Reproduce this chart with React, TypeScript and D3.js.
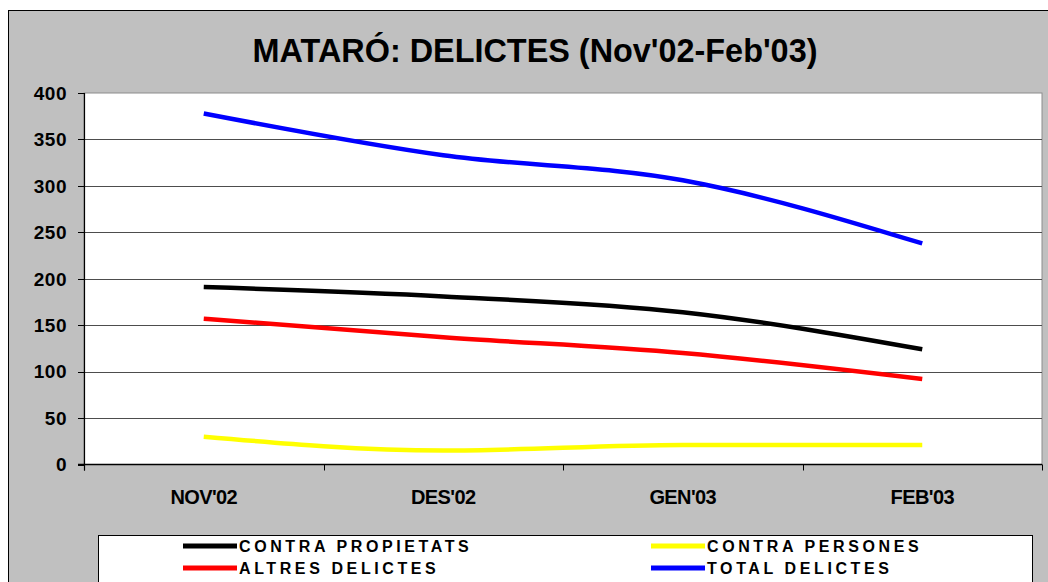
import React from "react";
import * as d3 from "d3";

const categories = ["NOV'02", "DES'02", "GEN'03", "FEB'03"];
const yTicks = [0, 50, 100, 150, 200, 250, 300, 350, 400];

const contraPropietats = [191, 181, 164, 124];
const contraPersones = [30, 15, 21, 21];
const altresDelictes = [157, 137, 120, 92];
const totalDelictes = [378, 333, 306, 238];

const series = [
  { name: "CONTRA PROPIETATS", values: contraPropietats, color: "#000000" },
  { name: "CONTRA PERSONES", values: contraPersones, color: "#ffff00" },
  { name: "ALTRES DELICTES", values: altresDelictes, color: "#ff0000" },
  { name: "TOTAL DELICTES", values: totalDelictes, color: "#0000ff" },
];

const W = 1048;
const H = 582;
const plot = { left: 84, right: 1042, top: 93, bottom: 464.5 };
const font = "'Liberation Sans', Arial, sans-serif";

const App: React.FC = () => {
  const x = d3
    .scaleBand<string>()
    .domain(categories)
    .range([plot.left, plot.right]);
  const y = d3.scaleLinear().domain([0, 400]).range([plot.bottom, plot.top]);
  const cx = (c: string) => (x(c) ?? 0) + x.bandwidth() / 2;

  const line = d3
    .line<number>()
    .x((_, i) => cx(categories[i]))
    .y((d) => y(d))
    .curve(d3.curveMonotoneX);

  // limites entre categories per a les marques de l'eix X
  const bounds = categories.map((c) => x(c) ?? 0).concat([plot.right]);

  // llegenda: dues columnes, dues files
  const legendPos = [
    { lx: 183, ty: 552 },
    { lx: 651, ty: 552 },
    { lx: 183, ty: 574 },
    { lx: 651, ty: 574 },
  ];

  return (
    <svg
      width={W}
      height={H}
      style={{ position: "absolute", left: 0, top: 0, background: "#fff" }}
    >
      <rect x={8.5} y={10.5} width={1050} height={600} fill="#c0c0c0" stroke="#000" strokeWidth={1} />
      <text
        x={535}
        y={62}
        textAnchor="middle"
        fontFamily={font}
        fontWeight="bold"
        fontSize={32.4}
        fill="#000"
      >
        MATARÓ: DELICTES (Nov'02-Feb'03)
      </text>

      <rect
        x={plot.left}
        y={plot.top}
        width={plot.right - plot.left}
        height={plot.bottom - plot.top}
        fill="#fff"
        stroke="#8c8c8c"
        strokeWidth={1}
      />

      {yTicks.map((t) => (
        <g key={t}>
          {t > 0 && t < 400 && (
            <line x1={plot.left} x2={plot.right} y1={Math.round(y(t)) + 0.5} y2={Math.round(y(t)) + 0.5} stroke="#4d4d4d" strokeWidth={1} />
          )}
          <line x1={plot.left - 6} x2={plot.left} y1={Math.round(y(t)) + 0.5} y2={Math.round(y(t)) + 0.5} stroke="#000" strokeWidth={1} />
          <text
            x={67}
            y={y(t) + 6.8}
            textAnchor="end"
            fontFamily={font}
            fontWeight="bold"
            fontSize={19}
            letterSpacing={0.5}
            fill="#000"
          >
            {t}
          </text>
        </g>
      ))}

      <line x1={plot.left + 0.5} x2={plot.left + 0.5} y1={plot.top} y2={plot.bottom + 6} stroke="#000" strokeWidth={1.2} />
      <line x1={plot.left - 6} x2={plot.right} y1={plot.bottom} y2={plot.bottom} stroke="#000" strokeWidth={1.5} />
      {bounds.map((b, i) => (
        <line key={i} x1={Math.round(b) + 0.5} x2={Math.round(b) + 0.5} y1={plot.bottom} y2={plot.bottom + 6} stroke="#000" strokeWidth={1} />
      ))}

      {categories.map((c) => (
        <text
          key={c}
          x={cx(c)}
          y={504}
          textAnchor="middle"
          fontFamily={font}
          fontWeight="bold"
          fontSize={20}
          letterSpacing={-0.6}
          fill="#000"
        >
          {c}
        </text>
      ))}

      {series.map((s) => (
        <path
          key={s.name}
          d={line(s.values) ?? ""}
          fill="none"
          stroke={s.color}
          strokeWidth={4.5}
          strokeLinecap="butt"
          strokeLinejoin="round"
        />
      ))}

      <rect x={98.5} y={535.5} width={934} height={60} fill="#fff" stroke="#000" strokeWidth={1} />
      {series.map((s, i) => {
        const p = legendPos[i];
        return (
          <g key={s.name}>
            <line x1={p.lx} x2={p.lx + 54} y1={p.ty - 6} y2={p.ty - 6} stroke={s.color} strokeWidth={5} />
            <text
              x={p.lx + 56}
              y={p.ty}
              fontFamily={font}
              fontWeight="bold"
              fontSize={16}
              letterSpacing={3.6}
              fill="#000"
            >
              {s.name}
            </text>
          </g>
        );
      })}
    </svg>
  );
};

export default App;
